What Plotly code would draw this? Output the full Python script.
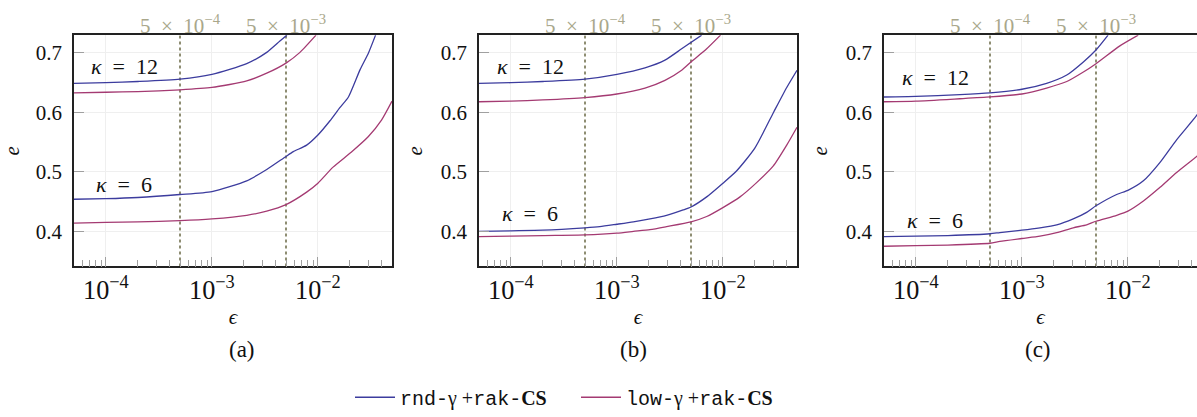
import numpy as np
import plotly.graph_objects as go

# ---------------- data ----------------
panels = ["(a)", "(b)", "(c)"]
series_names = ["rnd-γ +rak-CS", "low-γ +rak-CS"]
marker_eps = [5e-4, 5e-3]
marker_labels = ["5\u2002×\u200210<sup>−4</sup>", "5\u2002×\u200210<sup>−3</sup>"]

# panel (a)
a_eps_blue12 = [5e-5, 1e-4, 2e-4, 5e-4, 1e-3, 2.13e-3, 3.29e-3, 4.38e-3, 5.1e-3]
a_blue12 = [0.649, 0.650, 0.652, 0.656, 0.664, 0.682, 0.701, 0.720, 0.730]
a_eps_pink12 = [5e-5, 1e-4, 2e-4, 5e-4, 1e-3, 2.13e-3, 3.29e-3, 5e-3, 6.77e-3, 9.6e-3]
a_pink12 = [0.633, 0.634, 0.635, 0.638, 0.642, 0.653, 0.666, 0.683, 0.701, 0.730]
a_eps_blue6 = [5e-5, 1e-4, 2e-4, 5e-4, 1e-3, 2.13e-3, 3.29e-3, 5e-3, 5.86e-3, 7.83e-3,
               1e-2, 1.3e-2, 1.61e-2, 1.94e-2, 2.5e-2, 3e-2, 3.5e-2]
a_blue6 = [0.454, 0.455, 0.457, 0.462, 0.467, 0.485, 0.504, 0.526, 0.534, 0.545,
           0.562, 0.586, 0.608, 0.626, 0.672, 0.700, 0.730]
a_eps_pink6 = [5e-5, 1e-4, 2e-4, 5e-4, 1e-3, 2.13e-3, 3.29e-3, 5e-3, 7.83e-3, 1e-2,
               1.39e-2, 2.06e-2, 2.98e-2, 3.98e-2, 5e-2]
a_pink6 = [0.414, 0.415, 0.416, 0.418, 0.421, 0.427, 0.434, 0.445, 0.466, 0.481,
           0.508, 0.533, 0.559, 0.587, 0.619]

# panel (b)
b_eps_blue12 = [5e-5, 1e-4, 2e-4, 5e-4, 1e-3, 1.84e-3, 2.84e-3, 4.08e-3, 6.3e-3]
b_blue12 = [0.649, 0.650, 0.652, 0.656, 0.664, 0.675, 0.688, 0.707, 0.730]
b_eps_pink12 = [5e-5, 1e-4, 2e-4, 5e-4, 1e-3, 1.84e-3, 2.84e-3, 4.08e-3, 5e-3, 7.03e-3, 9.5e-3]
b_pink12 = [0.618, 0.619, 0.621, 0.625, 0.631, 0.641, 0.654, 0.671, 0.685, 0.707, 0.730]
b_eps_blue6 = [5e-5, 1e-4, 2e-4, 5e-4, 6.9e-4, 1e-3, 1.43e-3, 2.05e-3, 2.94e-3, 4.22e-3,
               5e-3, 7.03e-3, 1e-2, 1.35e-2, 2e-2, 3e-2, 4e-2, 5e-2]
b_blue6 = [0.400, 0.401, 0.402, 0.406, 0.408, 0.412, 0.416, 0.421, 0.427, 0.436,
           0.441, 0.458, 0.481, 0.502, 0.540, 0.600, 0.642, 0.671]
b_eps_pink6 = [5e-5, 1e-4, 2e-4, 5e-4, 1e-3, 1.43e-3, 2.05e-3, 2.94e-3, 5e-3, 7.03e-3,
               1e-2, 1.45e-2, 2.08e-2, 2.99e-2, 4e-2, 5e-2]
b_pink6 = [0.391, 0.392, 0.393, 0.394, 0.397, 0.400, 0.403, 0.408, 0.416, 0.425,
           0.440, 0.458, 0.482, 0.510, 0.545, 0.575]

# panel (c)
c_eps_blue12 = [5e-5, 1e-4, 2.6e-4, 5e-4, 1e-3, 1.71e-3, 2.65e-3, 3.8e-3, 5e-3, 6.5e-3]
c_blue12 = [0.626, 0.627, 0.630, 0.633, 0.639, 0.649, 0.663, 0.685, 0.705, 0.730]
c_eps_pink12 = [5e-5, 1e-4, 2.6e-4, 5e-4, 1e-3, 1.71e-3, 2.65e-3, 3.8e-3, 5e-3, 8.4e-3, 1.25e-2]
c_pink12 = [0.618, 0.619, 0.623, 0.626, 0.631, 0.641, 0.652, 0.668, 0.682, 0.712, 0.730]
c_eps_6 = [5e-5, 1e-4, 2e-4, 5e-4, 6.2e-4, 1e-3, 1.48e-3, 2.13e-3, 3.05e-3, 4.08e-3,
           5e-3, 7.83e-3, 1e-2, 1.4e-2, 2.01e-2, 2.88e-2, 4.45e-2, 5e-2]
c_blue6 = [0.391, 0.392, 0.393, 0.396, 0.398, 0.402, 0.406, 0.411, 0.421, 0.432,
           0.443, 0.462, 0.469, 0.485, 0.516, 0.554, 0.595, 0.610]
c_pink6 = [0.375, 0.376, 0.377, 0.380, 0.383, 0.388, 0.392, 0.398, 0.406, 0.411,
           0.417, 0.427, 0.434, 0.451, 0.474, 0.499, 0.526, 0.535]

panel_curves = [
    [(a_eps_blue12, a_blue12, 0), (a_eps_pink12, a_pink12, 1),
     (a_eps_blue6, a_blue6, 0), (a_eps_pink6, a_pink6, 1)],
    [(b_eps_blue12, b_blue12, 0), (b_eps_pink12, b_pink12, 1),
     (b_eps_blue6, b_blue6, 0), (b_eps_pink6, b_pink6, 1)],
    [(c_eps_blue12, c_blue12, 0), (c_eps_pink12, c_pink12, 1),
     (c_eps_6, c_blue6, 0), (c_eps_6, c_pink6, 1)],
]
kappa_labels = ["<i>κ</i>\u2002=\u200212", "<i>κ</i>\u2002=\u20026"]
kappa_y = [[0.677, 0.479], [0.677, 0.430], [0.659, 0.418]]

# ---------------- style ----------------
W, H = 1197, 417
colors = ["#3c3c9e", "#a43a72"]
marker_color = "#8e8d72"
marker_text_color = "#a9a78b"
serif = "Liberation Serif, Times New Roman, DejaVu Serif, serif"
grid_color = "#efefef"
tick_color = "#a0a0a0"

px_left = [74, 479, 884]
px_width = 318
px_top, px_bot = 36, 273
decade_px = 106.0
x_lo = np.log10(5e-5)
y_rng = [0.341, 0.73]
caption_px = [242, 633, 1038]
kappa_px = [124, 530, 935]

fig = go.Figure()

for i in range(3):
    sfx = "" if i == 0 else str(i + 1)
    xa, ya = "x" + sfx, "y" + sfx
    x0p = px_left[i] / W
    x1p = min(px_left[i] + px_width, W) / W
    vis_px = min(px_left[i] + px_width, W) - px_left[i]
    x_hi = x_lo + vis_px / decade_px

    # dotted markers
    for m in marker_eps:
        fig.add_trace(go.Scatter(x=[m, m], y=y_rng, xaxis=xa, yaxis=ya, mode="lines",
                                 line=dict(color=marker_color, width=2, dash="dot"),
                                 showlegend=False, hoverinfo="skip"))
    for k, (ex, ev, c) in enumerate(panel_curves[i]):
        fig.add_trace(go.Scatter(x=ex, y=ev, xaxis=xa, yaxis=ya, mode="lines",
                                 line=dict(color=colors[c], width=1.3, shape="spline", smoothing=0.6),
                                 name=series_names[c],
                                 showlegend=(i == 0 and k < 2), legendrank=c + 1))

    fig.layout["xaxis" + sfx] = dict(
        type="log", range=[x_lo, x_hi], domain=[x0p, x1p], anchor=ya,
        dtick=1, exponentformat="power", showexponent="all",
        showline=True, linecolor="#222", linewidth=1.5, mirror=True,
        ticks="inside", ticklen=10, tickcolor=tick_color, tickwidth=1,
        minor=dict(ticks="inside", ticklen=7, tickcolor=tick_color, dtick="D1", showgrid=False),
        showgrid=True, gridcolor=grid_color, gridwidth=1, zeroline=False,
        tickfont=dict(family=serif, size=21, color="#111"),
        title=dict(text="<i>ϵ</i>", font=dict(family=serif, size=21, color="#111"), standoff=0),
    )
    fig.layout["yaxis" + sfx] = dict(
        range=y_rng, domain=[1 - px_bot / H, 1 - px_top / H], anchor=xa,
        tickvals=[0.4, 0.5, 0.6, 0.7], ticktext=["0.4", "0.5", "0.6", "0.7"],
        showline=True, linecolor="#222", linewidth=1.5, mirror=(i < 2),
        ticks="inside", ticklen=10, tickcolor=tick_color, tickwidth=1,
        ticklabelstandoff=6,
        showgrid=True, gridcolor=grid_color, gridwidth=1, zeroline=False,
        tickfont=dict(family=serif, size=21, color="#111"),
        title=dict(text="<i>e</i>", font=dict(family=serif, size=21, color="#111"), standoff=12),
    )

    # top labels for markers
    for m, lab in zip(marker_eps, marker_labels):
        fig.add_annotation(x=np.log10(m), y=1, xref=xa, yref=ya + " domain",
                           text=lab, showarrow=False, xanchor="center", yanchor="bottom", yshift=-5,
                           font=dict(family=serif, size=21, color=marker_text_color))
    # kappa labels
    for lab, ky in zip(kappa_labels, kappa_y[i]):
        fig.add_annotation(x=(kappa_px[i] - px_left[i]) / vis_px, y=ky, xref=xa + " domain", yref=ya,
                           text=lab, showarrow=False, xanchor="center", yanchor="middle",
                           font=dict(family=serif, size=22, color="#111"))
    # panel caption
    fig.add_annotation(x=caption_px[i] / W, y=1 - 358 / H, xref="paper", yref="paper",
                       text=panels[i], showarrow=False, xanchor="center", yanchor="middle",
                       font=dict(family=serif, size=23, color="#111"))

mono = "font-family:'Liberation Mono'"
legend_names = [
    f"<span style=\"{mono}\">rnd-</span>γ +<span style=\"{mono}\">rak-</span><b>CS</b>",
    f"<span style=\"{mono}\">low-</span>γ +<span style=\"{mono}\">rak-</span><b>CS</b>",
]
cnt = 0
for tr in fig.data:
    if tr.showlegend:
        tr.name = legend_names[cnt]
        cnt += 1

fig.update_layout(
    width=W, height=H, margin=dict(l=0, r=0, t=0, b=0),
    paper_bgcolor="white", plot_bgcolor="white",
    showlegend=True,
    legend=dict(orientation="h", x=350 / W, xanchor="left", y=1 - 407 / H, yanchor="middle",
                font=dict(family=serif, size=20, color="#111"), itemwidth=40,
                entrywidth=171, entrywidthmode="pixels",
                bgcolor="rgba(0,0,0,0)", tracegroupgap=0),
)

fig.write_html("out.html", config={"displayModeBar": False},
               post_script="document.body.style.margin='0';")
